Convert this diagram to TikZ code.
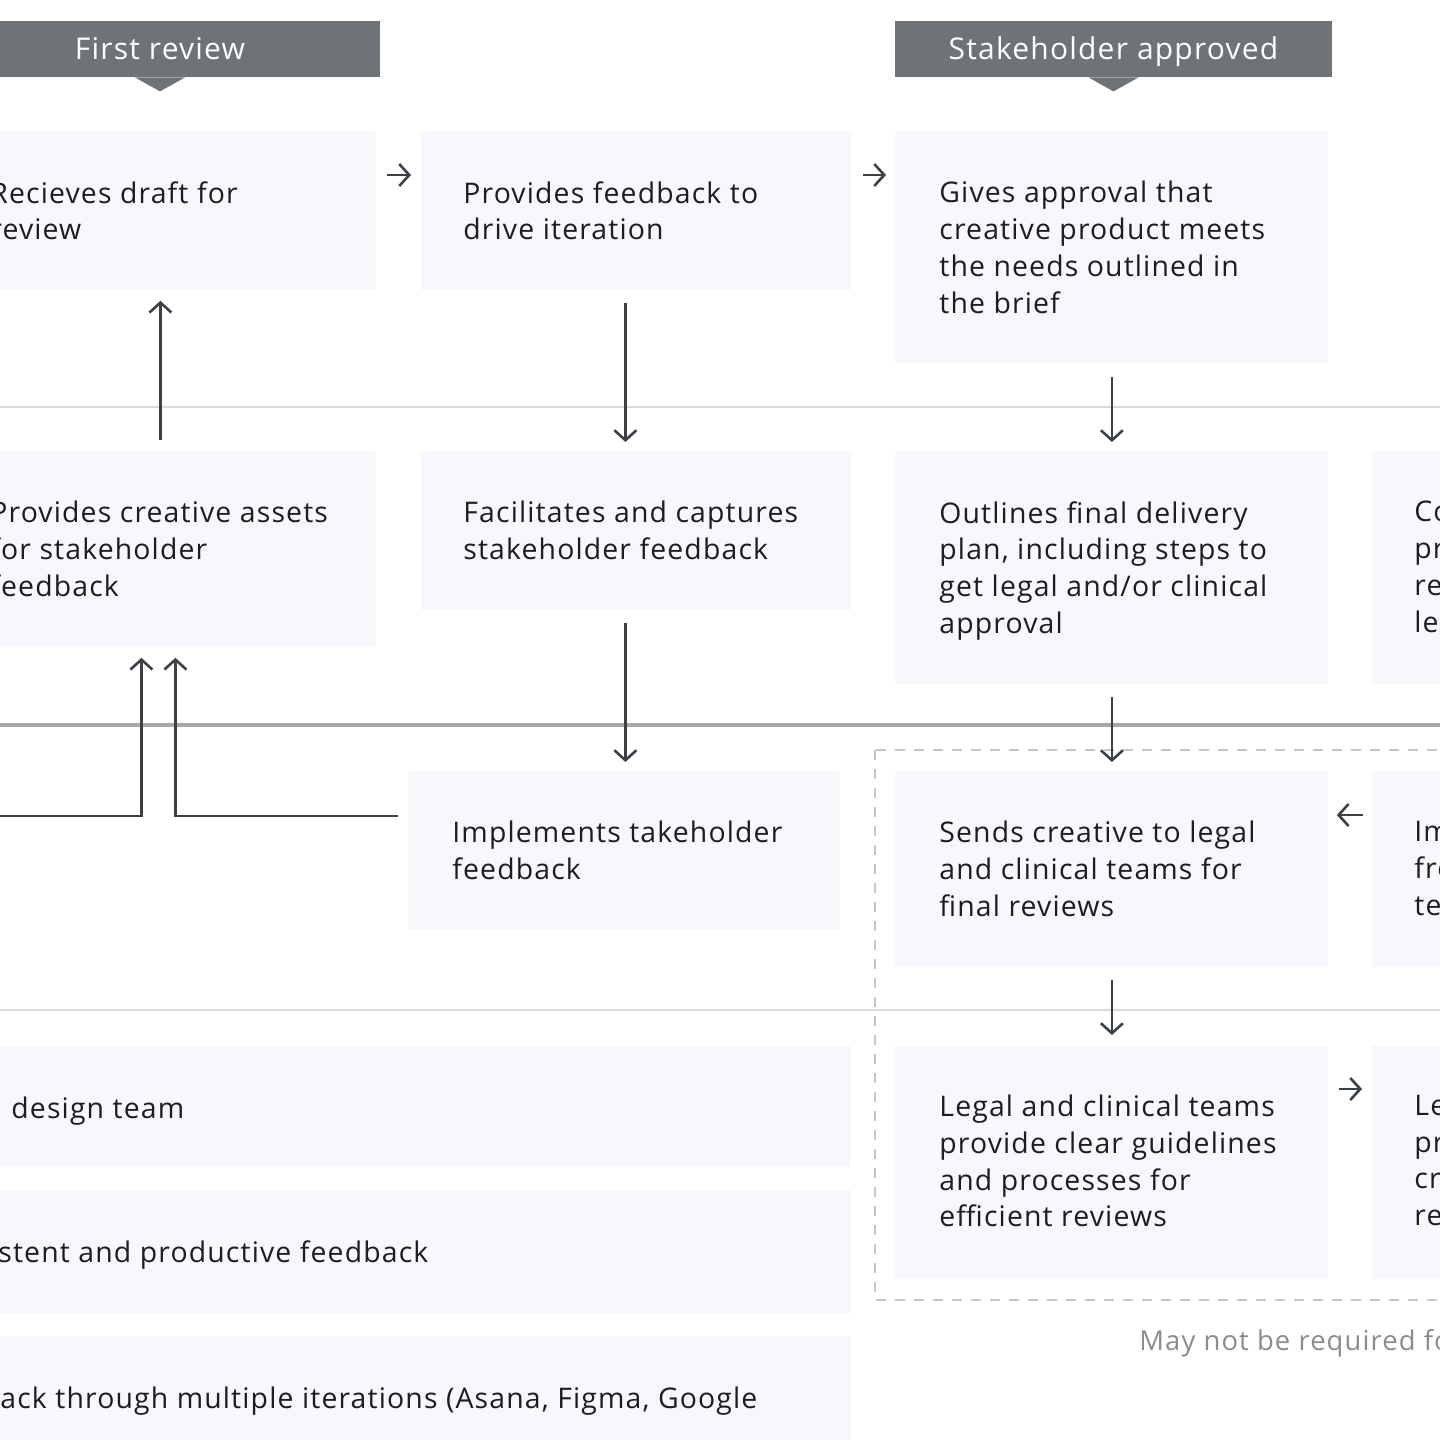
\documentclass[tikz,border=0pt]{standalone}
\usepackage{fontspec}
\setmainfont{Open Sans}[LetterSpace=4.0]
\usetikzlibrary{arrows.meta}

\definecolor{bannergray}{HTML}{6E7378}
\definecolor{cardfill}{HTML}{F7F8FB}
\definecolor{inkblack}{HTML}{1D1D1F}
\definecolor{arrowgray}{HTML}{3C4047}
\definecolor{rulethin}{HTML}{DADADA}
\definecolor{rulethick}{HTML}{A8A8A8}
\definecolor{dashgray}{HTML}{C6C6C6}
\definecolor{notegray}{HTML}{8C8C8C}

\tikzset{
  card/.style={rectangle, fill=cardfill, inner sep=0pt, anchor=north west},
  lbl/.style={font=\fontsize{14.2pt}{18.35pt}\selectfont, text=inkblack, align=left,
    anchor=north west, inner sep=0pt, execute at begin node=\strut},
  banner/.style={rectangle, fill=bannergray, text=white, inner sep=0pt,
    minimum height=28pt, text height=10.7pt, text depth=0pt,
    font=\fontsize{15pt}{17pt}\selectfont},
  flow/.style={draw=arrowgray, line width=1.3pt, -{Straight Barb[length=5pt, width=11pt]}},
  lane/.style={draw=rulethin, line width=0.8pt},
}

\begin{document}
\begin{tikzpicture}[x=0.5pt, y=-0.5pt]
  \useasboundingbox (0,0) rectangle (1440,1440);
  \clip (0,0) rectangle (1440,1440);
  \fill[white] (0,0) rectangle (1440,1440);

  % lane rules
  \draw[lane] (-60,407) -- (1500,407);
  \draw[draw=rulethick, line width=2pt] (-60,725) -- (1500,725);
  \draw[lane] (-60,1010) -- (1500,1010);

  % optional legal / clinical block
  \draw[draw=dashgray, line width=0.8pt, dash pattern=on 5pt off 4.5pt] (875,750) rectangle (1480,1300);

  % phase banners
  \node[banner, minimum width=220pt] (hdrfirst) at (160,49) {First review};
  \fill[bannergray] ([xshift=-12.5pt]hdrfirst.south) -- ([yshift=-7pt]hdrfirst.south) -- ([xshift=12.5pt]hdrfirst.south) -- cycle;
  \node[banner, minimum width=218.5pt] (hdrapproved) at (1113.5,49) {Stakeholder approved};
  \fill[bannergray] ([xshift=-12.5pt]hdrapproved.south) -- ([yshift=-7pt]hdrapproved.south) -- ([xshift=12.5pt]hdrapproved.south) -- cycle;

  % row 1
  \node[card, minimum width=214pt, minimum height=79.5pt] (a1) at (-52,131) {};
  \node[card, minimum width=215pt, minimum height=79.5pt] (b1) at (421,131) {};
  \node[card, minimum width=216.5pt, minimum height=116pt] (c1) at (895,131) {};
  % row 2
  \node[card, minimum width=214pt, minimum height=98pt] (a2) at (-52,451) {};
  \node[card, minimum width=215pt, minimum height=79.5pt] (b2) at (421,451) {};
  \node[card, minimum width=216.5pt, minimum height=116.5pt] (c2) at (895,451) {};
  \node[card, minimum width=215pt, minimum height=116.5pt] (d2) at (1372,451) {};
  % row 3
  \node[card, minimum width=216pt, minimum height=79.5pt] (b3) at (408,771) {};
  \node[card, minimum width=216.5pt, minimum height=98pt] (c3) at (895,771) {};
  \node[card, minimum width=215pt, minimum height=98pt] (d3) at (1372,771) {};
  % row 4
  \node[card, minimum width=451.5pt, minimum height=60.5pt] (w1) at (-52,1046) {};
  \node[card, minimum width=451.5pt, minimum height=61.5pt] (w2) at (-52,1190) {};
  \node[card, minimum width=451.5pt, minimum height=75pt] (w3) at (-52,1336) {};
  \node[card, minimum width=216.5pt, minimum height=116.5pt] (c4) at (895,1046) {};
  \node[card, minimum width=215pt, minimum height=116.5pt] (d4) at (1372,1046) {};

  % card texts
  \node[lbl] (ta1) at ([xshift=21pt, yshift=-25pt]a1.north west) {Recieves draft for\\review};
  \node[lbl] (tb1) at ([xshift=21pt, yshift=-25pt]b1.north west) {Provides feedback to\\drive iteration};
  \node[lbl] (tc1) at ([xshift=22pt, yshift=-25pt]c1.north west) {Gives approval that\\creative product meets\\the needs outlined in\\the brief};
  \node[lbl] (ta2) at ([xshift=21pt, yshift=-25pt]a2.north west) {Provides creative assets\\for stakeholder\\feedback};
  \node[lbl] (tb2) at ([xshift=21pt, yshift=-25pt]b2.north west) {Facilitates and captures\\stakeholder feedback};
  \node[lbl] (tc2) at ([xshift=22pt, yshift=-25pt]c2.north west) {Outlines final delivery\\plan, including steps to\\get legal and/or clinical\\approval};
  \node[lbl] (td2) at ([xshift=21pt, yshift=-25pt]d2.north west) {Co\\pr\\re\\le};
  \node[lbl] (tb3) at ([xshift=22pt, yshift=-25pt]b3.north west) {Implements takeholder\\feedback};
  \node[lbl] (tc3) at ([xshift=22pt, yshift=-25pt]c3.north west) {Sends creative to legal\\and clinical teams for\\final reviews};
  \node[lbl] (td3) at ([xshift=21pt, yshift=-25pt]d3.north west) {Im\\fro\\te};
  \node[lbl] (tw1) at ([xshift=31.5pt, yshift=-23pt]w1.north west) {design team};
  \node[lbl] (tw2) at ([xshift=25pt, yshift=-23pt]w2.north west) {stent and productive feedback};
  \node[lbl] (tw3) at ([xshift=26pt, yshift=-23pt]w3.north west) {ack through multiple iterations (Asana, Figma, Google};
  \node[lbl] (tc4) at ([xshift=22pt, yshift=-24.4pt]c4.north west) {Legal and clinical teams\\provide clear guidelines\\and processes for\\efficient reviews};
  \node[lbl] (td4) at ([xshift=21pt, yshift=-24.4pt]d4.north west) {Le\\pr\\cr\\re};

  \node[lbl, text=notegray, font=\fontsize{13.7pt}{18pt}\selectfont, anchor=west] (note) at (1139,1343) {May not be required fo};

  % flow
  \draw[flow, shorten <=5pt, shorten >=5pt] ([yshift=-22pt]a1.north east) -- ([yshift=-22pt]b1.north west);
  \draw[flow, shorten <=5.5pt, shorten >=4.5pt] ([yshift=-22pt]b1.north east) -- ([yshift=-22pt]c1.north west);
  \draw[flow, shorten <=5.5pt, shorten >=5pt] ([xshift=-1pt]a2.north) -- ([xshift=-1pt]a1.south);
  \draw[flow, shorten <=6pt, shorten >=4.5pt] ([xshift=-5.5pt]b1.south) -- ([xshift=-5.5pt]b2.north);
  \draw[flow, shorten <=6.5pt, shorten >=4.5pt] (c1.south) -- (c2.north);
  \draw[flow, shorten <=6pt, shorten >=4.5pt] ([xshift=-5.5pt]b2.south) -- ([xshift=-5.5pt]b2.south |- b3.north);
  \draw[flow, shorten <=6pt, shorten >=4.5pt] (c2.south) -- (c3.north);
  \draw[flow, shorten <=6pt, shorten >=5.5pt] (c3.south) -- (c4.north);
  \draw[flow, shorten <=4.5pt, shorten >=4pt] ([yshift=-22pt]d3.north west) -- ([yshift=-22pt]c3.north east);
  \draw[flow, shorten <=5pt, shorten >=5pt] ([yshift=-21.5pt]c4.north east) -- ([yshift=-21.5pt]d4.north west);

  % incoming assets
  \coordinate (inleft) at (-20,816);
  \coordinate (inright) at (398,816);
  \draw[flow, shorten >=5pt] (inleft) -| ([xshift=-10.5pt]a2.south);
  \draw[flow, shorten >=5pt] (inright) -| ([xshift=6.5pt]a2.south);
\end{tikzpicture}
\end{document}
